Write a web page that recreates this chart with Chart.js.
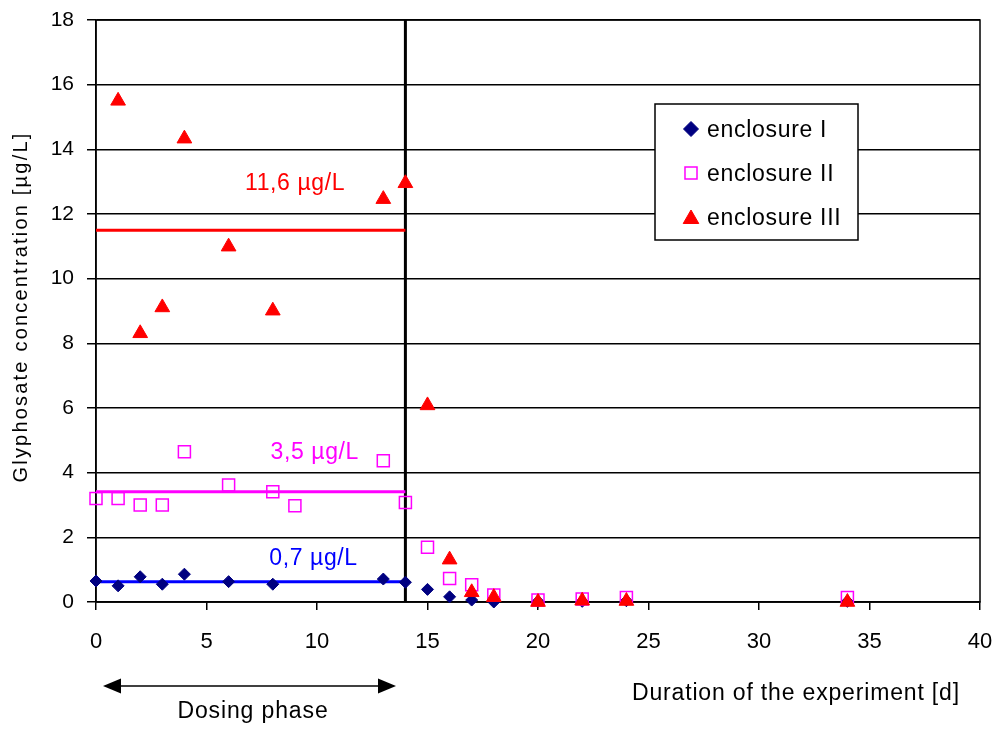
<!DOCTYPE html>
<html><head><meta charset="utf-8">
<style>html,body{margin:0;padding:0;background:#fff;}canvas{display:block;}</style>
<script src="https://cdn.jsdelivr.net/npm/chart.js@4.4.1/dist/chart.umd.min.js"></script>
</head><body>
<canvas id="c" width="998" height="729"></canvas>
<script>
// ---- data ----
const seriesNames = ['enclosure I', 'enclosure II', 'enclosure III'];
const daysI  = [0, 1, 2, 3, 4, 6, 8, 13, 14, 15, 16, 17, 18, 20, 22, 24, 34];
const concI  = [0.65, 0.5, 0.78, 0.55, 0.86, 0.63, 0.55, 0.71, 0.61, 0.39, 0.16, 0.06, 0.0, 0.02, 0.02, 0.04, 0.02];
const daysII = [0, 1, 2, 3, 4, 6, 8, 9, 13, 14, 15, 16, 17, 18, 20, 22, 24, 34];
const concII = [3.2, 3.2, 3.0, 3.0, 4.65, 3.62, 3.41, 2.98, 4.37, 3.08, 1.69, 0.73, 0.53, 0.22, 0.06, 0.09, 0.14, 0.14];
const daysIII = [1, 2, 3, 4, 6, 8, 13, 14, 15, 16, 17, 18, 20, 22, 24, 34];
const concIII = [15.5, 8.31, 9.11, 14.33, 10.99, 9.01, 12.46, 12.95, 6.08, 1.31, 0.3, 0.15, 0.0, 0.04, 0.03, 0.0];
const dosingStart = 0;
const dosingEnd = 14;
const meanLevels = [0.63, 3.41, 11.5];
const meanLabels = ['0,7 µg/L', '3,5 µg/L', '11,6 µg/L'];
const xTickValues = [0, 5, 10, 15, 20, 25, 30, 35, 40];
const yTickValues = [0, 2, 4, 6, 8, 10, 12, 14, 16, 18];
const xTitle = 'Duration of the experiment [d]';
const yTitle = 'Glyphosate concentration [µg/L]';
const phaseLabel = 'Dosing phase';

// ---- styles ----
const FONT = "'Liberation Sans', Arial, sans-serif";
const colI = '#000080', colII = '#FF00FF', colIII = '#FF0000';
const meanColors = ['#0000FF', '#FF00FF', '#FF0000'];

const toPts = (xs, ys) => xs.map((x, i) => ({x: x, y: ys[i]}));

const datasets = [
  {label: seriesNames[0], data: toPts(daysI, concI), pointStyle: 'rectRot', pointRadius: 6,
   backgroundColor: colI, borderColor: colI, borderWidth: 1, showLine: false, order: 3, clip: false},
  {label: seriesNames[1], data: toPts(daysII, concII), pointStyle: 'rect', pointRadius: 8.5,
   backgroundColor: 'rgba(0,0,0,0)', borderColor: colII, borderWidth: 1.5, showLine: false, order: 2, clip: false},
  {label: seriesNames[2], data: toPts(daysIII, concIII), pointStyle: 'triangle', pointRadius: 8.5,
   backgroundColor: colIII, borderColor: colIII, borderWidth: 1, showLine: false, order: 1, clip: false}
];
meanLevels.forEach((v, i) => {
  datasets.push({label: 'mean ' + meanLabels[i], data: [{x: dosingStart, y: v}, {x: dosingEnd, y: v}],
    showLine: true, borderColor: meanColors[i], borderWidth: 3, pointRadius: 0, fill: false, order: 10});
});
datasets.push({label: 'end of dosing', data: [{x: dosingEnd, y: yTickValues[0]}, {x: dosingEnd, y: yTickValues[yTickValues.length - 1]}],
  showLine: true, borderColor: '#000', borderWidth: 3, pointRadius: 0, fill: false, order: 11});

function spacedText(ctx, txt, x, y, spacing) {
  ctx.letterSpacing = spacing + 'px';
  ctx.fillText(txt, x, y);
  ctx.letterSpacing = '0px';
}

const decor = {
  id: 'decor',
  beforeDatasetsDraw(chart) {
    const {ctx, chartArea: a} = chart;
    ctx.save();
    ctx.strokeStyle = '#000';
    ctx.lineWidth = 1.5;
    ctx.strokeRect(a.left, a.top, a.right - a.left, a.bottom - a.top);
    ctx.restore();
  },
  afterDraw(chart) {
    const {ctx} = chart;
    const xs = chart.scales.x, ys = chart.scales.y;
    ctx.save();
    // mean labels
    ctx.font = '23px ' + FONT;
    ctx.textAlign = 'left';
    ctx.textBaseline = 'alphabetic';
    const labelPos = [[7.84, 1.14], [7.9, 4.41], [6.74, 12.74]];
    meanLabels.forEach((t, i) => {
      ctx.fillStyle = meanColors[i];
      spacedText(ctx, t, xs.getPixelForValue(labelPos[i][0]), ys.getPixelForValue(labelPos[i][1]), 0.6);
    });
    // legend
    const lx = 655, ly = 104, lw = 203, lh = 136;
    ctx.fillStyle = '#fff';
    ctx.fillRect(lx, ly, lw, lh);
    ctx.strokeStyle = '#000';
    ctx.lineWidth = 1.5;
    ctx.strokeRect(lx, ly, lw, lh);
    const rows = [129, 173, 217];
    const mk = [
      {pointStyle: 'rectRot', radius: 7.5, borderWidth: 1, fill: colI, stroke: colI},
      {pointStyle: 'rect', radius: 8.5, borderWidth: 1.5, fill: 'rgba(0,0,0,0)', stroke: colII},
      {pointStyle: 'triangle', radius: 9, borderWidth: 1, fill: colIII, stroke: colIII}
    ];
    rows.forEach((ry, i) => {
      ctx.fillStyle = mk[i].fill;
      ctx.strokeStyle = mk[i].stroke;
      ctx.lineWidth = mk[i].borderWidth;
      Chart.helpers.drawPoint(ctx, {pointStyle: mk[i].pointStyle, radius: mk[i].radius, rotation: 0, borderWidth: mk[i].borderWidth}, 691, ry + (i === 2 ? 2 : 0));
      ctx.fillStyle = '#000';
      ctx.font = '23px ' + FONT;
      ctx.textAlign = 'left';
      ctx.textBaseline = 'alphabetic';
      spacedText(ctx, seriesNames[i], 707, ry + 8, 0.7);
    });
    // x title
    ctx.fillStyle = '#000';
    ctx.font = '23px ' + FONT;
    ctx.textAlign = 'left';
    spacedText(ctx, xTitle, 632, 700, 0.83);
    // dosing phase arrow
    const ay = 686, x1 = 103, x2 = 396;
    ctx.strokeStyle = '#000';
    ctx.lineWidth = 1.5;
    ctx.beginPath(); ctx.moveTo(x1 + 10, ay); ctx.lineTo(x2 - 10, ay); ctx.stroke();
    ctx.fillStyle = '#000';
    ctx.beginPath(); ctx.moveTo(x1, ay); ctx.lineTo(x1 + 18, ay - 7.5); ctx.lineTo(x1 + 18, ay + 7.5); ctx.closePath(); ctx.fill();
    ctx.beginPath(); ctx.moveTo(x2, ay); ctx.lineTo(x2 - 18, ay - 7.5); ctx.lineTo(x2 - 18, ay + 7.5); ctx.closePath(); ctx.fill();
    ctx.textAlign = 'center';
    spacedText(ctx, phaseLabel, 253, 718, 0.87);
    // y title
    ctx.translate(27, 307);
    ctx.rotate(-Math.PI / 2);
    ctx.font = '20px ' + FONT;
    ctx.textAlign = 'center';
    spacedText(ctx, yTitle, 0, 0, 2.2);
    ctx.restore();
  }
};

new Chart(document.getElementById('c'), {
  type: 'scatter',
  data: {datasets: datasets},
  options: {
    responsive: false,
    animation: false,
    devicePixelRatio: 1,
    layout: {padding: {top: 20, right: 18, left: 0, bottom: 0}},
    plugins: {legend: {display: false}, tooltip: {enabled: false}},
    scales: {
      x: {
        type: 'linear', min: xTickValues[0], max: xTickValues[xTickValues.length - 1],
        afterBuildTicks: s => { s.ticks = xTickValues.map(v => ({value: v})); },
        afterFit: s => { s.height = 127; s.paddingLeft = 0; s.paddingRight = 0; },
        grid: {drawOnChartArea: false, color: '#000', lineWidth: 1.5, tickLength: 8},
        border: {color: '#000', width: 1.5},
        ticks: {font: {family: FONT, size: 22}, color: '#000', padding: 19, maxRotation: 0}
      },
      y: {
        type: 'linear', min: yTickValues[0], max: yTickValues[yTickValues.length - 1],
        afterBuildTicks: s => { s.ticks = yTickValues.map(v => ({value: v})); },
        afterFit: s => { s.width = 96; s.paddingTop = 0; s.paddingBottom = 0; },
        grid: {color: '#000', lineWidth: 1.5, tickLength: 9},
        border: {color: '#000', width: 1.5},
        ticks: {font: {family: FONT, size: 21}, color: '#000', padding: 13}
      }
    }
  },
  plugins: [decor]
});
</script>
</body></html>
